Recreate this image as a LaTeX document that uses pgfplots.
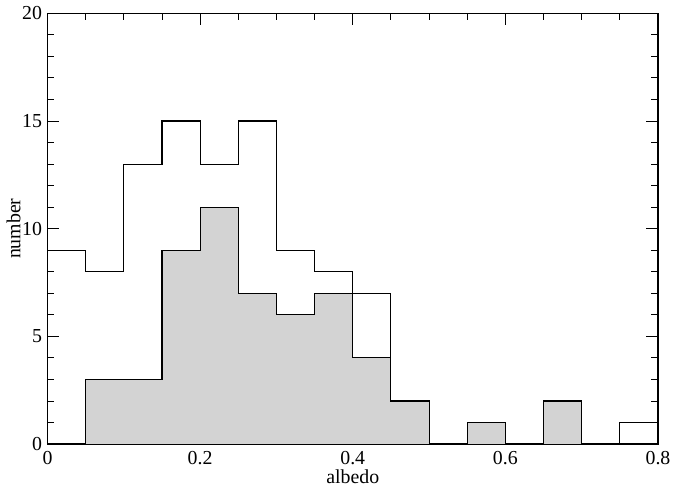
\documentclass[border=0pt]{standalone}
\usepackage{fontspec}
\setmainfont{Liberation Serif}
\usepackage{pgfplots}
\pgfplotsset{compat=1.18}
\definecolor{histgray}{HTML}{D3D3D3}
\begin{document}
\fontsize{15}{17}\selectfont
\begin{tikzpicture}
\begin{axis}[
    scale only axis,
    width=462pt, height=326pt,
    xmin=0, xmax=0.8, ymin=0, ymax=20,
    xtick={0,0.2,...,0.8},
    xticklabels={0,0.2,0.4,0.6,0.8},
    minor x tick num=3,
    ytick={0,5,10,15,20},
    minor y tick num=4,
    tick align=inside,
    major tick length=9pt,
    minor tick length=5pt,
    tick style={black, line width=0.7pt},
    axis line style={line width=0.9pt},
    xlabel={albedo}, ylabel={number},
    xlabel style={yshift=6pt},
    ylabel style={yshift=-9pt},
    yticklabel style={xshift=1pt},
    /pgf/number format/assume math mode=true,
    tick label style={font=\fontsize{15}{17}\selectfont},
    label style={font=\fontsize{15}{17}\selectfont},
]
% filled histogram
\addplot[const plot, fill=histgray, draw=black, line width=0.8pt] coordinates {
    (0,0) (0.05,3) (0.1,3) (0.15,9) (0.2,11) (0.25,7) (0.3,6) (0.35,7)
    (0.4,4) (0.45,2) (0.5,0) (0.55,1) (0.6,0) (0.65,2) (0.7,0) (0.75,0) (0.8,0)
} \closedcycle;
% open histogram
\addplot[const plot, draw=black, line width=0.8pt] coordinates {
    (0,9) (0.05,8) (0.1,13) (0.15,15) (0.2,13) (0.25,15) (0.3,9) (0.35,8)
    (0.4,7) (0.45,2) (0.5,0) (0.55,1) (0.6,0) (0.65,2) (0.7,0) (0.75,1) (0.8,1)
};
\end{axis}
\end{tikzpicture}
\end{document}
